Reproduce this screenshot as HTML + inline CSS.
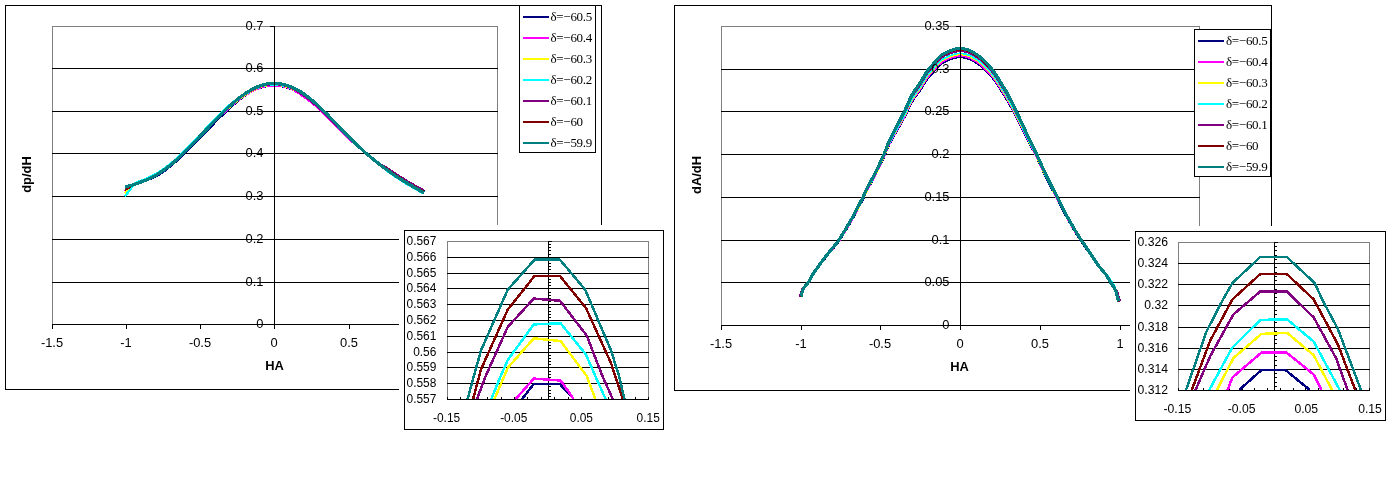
<!DOCTYPE html>
<html><head><meta charset="utf-8"><title>Charts</title>
<style>html,body{margin:0;padding:0;background:#fff;}svg{display:block;}text{fill:#000;}</style>
</head><body>
<svg width="1395" height="482" viewBox="0 0 1395 482">
<rect width="1395" height="482" fill="#fff"/>
<rect x="5" y="5" width="597" height="1" fill="#000"/>
<rect x="5" y="389" width="597" height="1" fill="#000"/>
<rect x="5" y="5" width="1" height="385" fill="#000"/>
<rect x="601" y="5" width="1" height="385" fill="#000"/>
<rect x="52" y="26" width="446" height="1" fill="#808080"/>
<rect x="52" y="26" width="1" height="299" fill="#808080"/>
<rect x="497" y="26" width="1" height="299" fill="#808080"/>
<rect x="52" y="68" width="446" height="1" fill="#000"/>
<rect x="52" y="111" width="446" height="1" fill="#000"/>
<rect x="52" y="153" width="446" height="1" fill="#000"/>
<rect x="52" y="196" width="446" height="1" fill="#000"/>
<rect x="52" y="239" width="446" height="1" fill="#000"/>
<rect x="52" y="282" width="446" height="1" fill="#000"/>
<g>
<polyline points="125.0,190.2 128.3,188.1 131.6,186.0 135.0,184.1 138.3,183.0 141.6,181.8 144.9,180.7 148.3,179.5 151.6,178.2 154.9,176.7 158.2,175.0 161.5,172.9 164.9,170.5 168.2,168.0 171.5,165.4 174.8,162.5 178.2,159.5 181.5,156.4 184.8,153.2 188.1,150.0 191.4,146.6 194.8,143.2 198.1,139.8 201.4,136.3 204.7,132.8 208.1,129.4 211.4,126.0 214.7,122.6 218.0,119.3 221.3,116.0 224.7,112.9 228.0,109.8 231.3,106.7 234.6,103.8 238.0,100.9 241.3,98.2 244.6,95.8 247.9,93.6 251.2,91.6 254.6,90.0 257.9,88.6 261.2,87.4 264.5,86.5 267.9,85.9 271.2,85.5 274.5,85.4 277.8,85.6 281.1,86.1 284.5,86.7 287.8,87.7 291.1,88.9 294.4,90.4 297.8,92.3 301.1,94.4 304.4,96.6 307.7,98.9 311.0,101.5 314.4,104.2 317.7,107.1 321.0,110.1 324.3,113.2 327.7,116.5 331.0,119.8 334.3,123.2 337.6,126.6 340.9,130.0 344.3,133.4 347.6,136.7 350.9,139.9 354.2,143.0 357.6,146.0 360.9,148.9 364.2,151.8 367.5,154.7 370.8,157.5 374.2,160.2 377.5,162.6 380.8,164.9 384.1,167.1 387.5,169.2 390.8,171.4 394.1,173.7 397.4,175.9 400.7,178.1 404.1,180.1 407.4,182.2 410.7,184.1 414.0,186.0 417.4,187.9 420.7,189.7 424.0,191.5" fill="none" stroke="#000080" stroke-width="2.4" stroke-linejoin="round" stroke-linecap="butt" shape-rendering="crispEdges"/>
<polyline points="125.0,191.2 128.3,188.7 131.6,186.2 135.0,184.1 138.3,183.0 141.6,181.8 144.9,180.5 148.3,179.1 151.6,177.5 154.9,175.8 158.2,173.9 161.5,171.8 164.9,169.4 168.2,166.9 171.5,164.3 174.8,161.4 178.2,158.4 181.5,155.3 184.8,152.1 188.1,148.8 191.4,145.5 194.8,142.1 198.1,138.6 201.4,135.2 204.7,131.7 208.1,128.2 211.4,124.8 214.7,121.4 218.0,118.1 221.3,114.9 224.7,111.7 228.0,108.7 231.3,105.7 234.6,103.0 238.0,100.3 241.3,97.8 244.6,95.5 247.9,93.5 251.2,91.6 254.6,89.9 257.9,88.5 261.2,87.3 264.5,86.4 267.9,85.8 271.2,85.4 274.5,85.3 277.8,85.5 281.1,86.0 284.5,86.6 287.8,87.6 291.1,88.8 294.4,90.5 297.8,92.5 301.1,94.8 304.4,97.1 307.7,99.4 311.0,102.0 314.4,104.7 317.7,107.6 321.0,110.6 324.3,113.8 327.7,117.0 331.0,120.4 334.3,123.7 337.6,127.1 340.9,130.6 344.3,134.0 347.6,137.3 350.9,140.4 354.2,143.3 357.6,146.2 360.9,149.0 364.2,151.8 367.5,154.7 370.8,157.5 374.2,160.2 377.5,162.7 380.8,165.1 384.1,167.5 387.5,169.8 390.8,172.0 394.1,174.3 397.4,176.5 400.7,178.7 404.1,180.7 407.4,182.8 410.7,184.7 414.0,186.6 417.4,188.5 420.7,190.3 424.0,192.1" fill="none" stroke="#ff00ff" stroke-width="2.4" stroke-linejoin="round" stroke-linecap="butt" shape-rendering="crispEdges"/>
<polyline points="125.0,193.2 128.3,190.0 131.6,186.8 135.0,184.1 138.3,183.0 141.6,181.8 144.9,180.5 148.3,179.1 151.6,177.5 154.9,175.8 158.2,173.9 161.5,171.7 164.9,169.4 168.2,166.9 171.5,164.2 174.8,161.4 178.2,158.4 181.5,155.3 184.8,152.1 188.1,148.8 191.4,145.4 194.8,142.0 198.1,138.5 201.4,135.0 204.7,131.5 208.1,128.0 211.4,124.6 214.7,121.2 218.0,117.8 221.3,114.6 224.7,111.4 228.0,108.3 231.3,105.3 234.6,102.5 238.0,99.8 241.3,97.3 244.6,95.0 247.9,92.9 251.2,91.0 254.6,89.3 257.9,87.8 261.2,86.6 264.5,85.7 267.9,85.1 271.2,84.7 274.5,84.6 277.8,84.8 281.1,85.3 284.5,86.0 287.8,86.9 291.1,88.1 294.4,89.6 297.8,91.3 301.1,93.2 304.4,95.4 307.7,97.7 311.0,100.3 314.4,103.1 317.7,106.0 321.0,109.1 324.3,112.2 327.7,115.5 331.0,118.9 334.3,122.3 337.6,125.7 340.9,129.2 344.3,132.6 347.6,136.0 350.9,139.3 354.2,142.5 357.6,145.7 360.9,148.8 364.2,151.7 367.5,154.6 370.8,157.4 374.2,160.2 377.5,162.8 380.8,165.4 384.1,167.8 387.5,170.3 390.8,172.6 394.1,174.9 397.4,177.1 400.7,179.2 404.1,181.3 407.4,183.4 410.7,185.3 414.0,187.2 417.4,189.1 420.7,190.9 424.0,192.7" fill="none" stroke="#ffff00" stroke-width="2.4" stroke-linejoin="round" stroke-linecap="butt" shape-rendering="crispEdges"/>
<polyline points="125.0,196.4 128.3,192.0 131.6,187.5 135.0,183.3 138.3,181.8 141.6,180.6 144.9,179.3 148.3,177.9 151.6,176.3 154.9,174.6 158.2,172.6 161.5,170.5 164.9,168.2 168.2,165.7 171.5,163.0 174.8,160.1 178.2,157.1 181.5,154.0 184.8,150.7 188.1,147.4 191.4,144.0 194.8,140.6 198.1,137.1 201.4,133.5 204.7,130.0 208.1,126.5 211.4,123.0 214.7,119.5 218.0,116.1 221.3,112.8 224.7,109.5 228.0,106.5 231.3,103.7 234.6,101.1 238.0,98.7 241.3,96.6 244.6,94.5 247.9,92.6 251.2,90.7 254.6,89.0 257.9,87.5 261.2,86.3 264.5,85.4 267.9,84.8 271.2,84.4 274.5,84.3 277.8,84.5 281.1,85.0 284.5,85.7 287.8,86.6 291.1,87.9 294.4,89.3 297.8,91.0 301.1,93.0 304.4,95.1 307.7,97.5 311.0,100.1 314.4,102.9 317.7,105.8 321.0,108.9 324.3,112.1 327.7,115.4 331.0,118.8 334.3,122.2 337.6,125.6 340.9,129.1 344.3,132.5 347.6,135.9 350.9,139.2 354.2,142.5 357.6,145.7 360.9,148.7 364.2,151.7 367.5,154.6 370.8,157.4 374.2,160.2 377.5,162.9 380.8,165.7 384.1,168.4 387.5,171.0 390.8,173.5 394.1,175.8 397.4,178.0 400.7,180.1 404.1,182.2 407.4,184.3 410.7,186.2 414.0,188.1 417.4,190.0 420.7,191.8 424.0,193.6" fill="none" stroke="#00ffff" stroke-width="2.4" stroke-linejoin="round" stroke-linecap="butt" shape-rendering="crispEdges"/>
<polyline points="125.0,189.2 128.3,187.4 131.6,185.7 135.0,184.1 138.3,183.0 141.6,181.8 144.9,180.5 148.3,179.1 151.6,177.5 154.9,175.8 158.2,173.8 161.5,171.7 164.9,169.4 168.2,166.9 171.5,164.2 174.8,161.3 178.2,158.3 181.5,155.2 184.8,152.0 188.1,148.7 191.4,145.3 194.8,141.9 198.1,138.4 201.4,134.9 204.7,131.4 208.1,127.9 211.4,124.4 214.7,121.0 218.0,117.6 221.3,114.3 224.7,111.1 228.0,108.0 231.3,105.0 234.6,102.1 238.0,99.4 241.3,96.9 244.6,94.5 247.9,92.4 251.2,90.4 254.6,88.7 257.9,87.3 261.2,86.1 264.5,85.1 267.9,84.5 271.2,84.1 274.5,84.0 277.8,84.2 281.1,84.7 284.5,85.4 287.8,86.4 291.1,87.6 294.4,89.3 297.8,91.3 301.1,93.5 304.4,95.9 307.7,98.3 311.0,100.9 314.4,103.7 317.7,106.6 321.0,109.7 324.3,112.9 327.7,116.3 331.0,119.6 334.3,123.1 337.6,126.5 340.9,130.0 344.3,133.4 347.6,136.8 350.9,140.0 354.2,143.0 357.6,145.9 360.9,148.8 364.2,151.7 367.5,154.6 370.8,157.4 374.2,160.0 377.5,162.4 380.8,164.5 384.1,166.4 387.5,168.4 390.8,170.5 394.1,172.8 397.4,175.0 400.7,177.1 404.1,179.2 407.4,181.3 410.7,183.2 414.0,185.1 417.4,187.0 420.7,188.8 424.0,190.6" fill="none" stroke="#800080" stroke-width="2.4" stroke-linejoin="round" stroke-linecap="butt" shape-rendering="crispEdges"/>
<polyline points="125.0,190.0 128.3,187.9 131.6,185.9 135.0,184.1 138.3,183.0 141.6,181.8 144.9,180.5 148.3,179.0 151.6,177.4 154.9,175.6 158.2,173.6 161.5,171.5 164.9,169.2 168.2,166.7 171.5,164.0 174.8,161.1 178.2,158.1 181.5,155.0 184.8,151.8 188.1,148.4 191.4,145.1 194.8,141.6 198.1,138.1 201.4,134.6 204.7,131.1 208.1,127.6 211.4,124.1 214.7,120.6 218.0,117.2 221.3,113.9 224.7,110.7 228.0,107.6 231.3,104.6 234.6,101.7 238.0,99.1 241.3,96.5 244.6,94.2 247.9,92.1 251.2,90.1 254.6,88.4 257.9,86.9 261.2,85.7 264.5,84.7 267.9,84.1 271.2,83.7 274.5,83.6 277.8,83.8 281.1,84.3 284.5,85.0 287.8,86.0 291.1,87.2 294.4,88.7 297.8,90.4 301.1,92.4 304.4,94.6 307.7,97.0 311.0,99.6 314.4,102.4 317.7,105.4 321.0,108.5 324.3,111.8 327.7,115.1 331.0,118.5 334.3,121.9 337.6,125.4 340.9,128.9 344.3,132.3 347.6,135.8 350.9,139.1 354.2,142.4 357.6,145.6 360.9,148.6 364.2,151.6 367.5,154.5 370.8,157.4 374.2,160.1 377.5,162.6 380.8,165.0 384.1,167.3 387.5,169.5 390.8,171.8 394.1,174.1 397.4,176.3 400.7,178.4 404.1,180.5 407.4,182.5 410.7,184.5 414.0,186.4 417.4,188.3 420.7,190.1 424.0,191.9" fill="none" stroke="#800000" stroke-width="2.4" stroke-linejoin="round" stroke-linecap="butt" shape-rendering="crispEdges"/>
<polyline points="125.0,187.2 128.3,186.2 131.6,185.2 135.0,184.1 138.3,183.0 141.6,181.8 144.9,180.5 148.3,179.1 151.6,177.5 154.9,175.8 158.2,173.8 161.5,171.7 164.9,169.4 168.2,166.9 171.5,164.2 174.8,161.3 178.2,158.3 181.5,155.2 184.8,151.9 188.1,148.6 191.4,145.2 194.8,141.8 198.1,138.3 201.4,134.7 204.7,131.2 208.1,127.7 211.4,124.2 214.7,120.7 218.0,117.3 221.3,114.0 224.7,110.7 228.0,107.6 231.3,104.6 234.6,101.7 238.0,98.9 241.3,96.4 244.6,94.0 247.9,91.8 251.2,89.8 254.6,88.1 257.9,86.6 261.2,85.4 264.5,84.4 267.9,83.8 271.2,83.4 274.5,83.3 277.8,83.5 281.1,84.0 284.5,84.7 287.8,85.7 291.1,86.9 294.4,88.4 297.8,90.2 301.1,92.1 304.4,94.3 307.7,96.8 311.0,99.4 314.4,102.2 317.7,105.2 321.0,108.4 324.3,111.6 327.7,114.9 331.0,118.4 334.3,121.8 337.6,125.3 340.9,128.8 344.3,132.3 347.6,135.7 350.9,139.1 354.2,142.3 357.6,145.5 360.9,148.6 364.2,151.6 367.5,154.5 370.8,157.3 374.2,160.1 377.5,162.7 380.8,165.3 384.1,167.8 387.5,170.2 390.8,172.6 394.1,174.9 397.4,177.1 400.7,179.2 404.1,181.3 407.4,183.3 410.7,185.3 414.0,187.2 417.4,189.1 420.7,190.9 424.0,192.7" fill="none" stroke="#008080" stroke-width="3.2" stroke-linejoin="round" stroke-linecap="butt" shape-rendering="crispEdges"/>
</g>
<rect x="52" y="324" width="446" height="1" fill="#000"/>
<rect x="274" y="26" width="1" height="303" fill="#000"/>
<rect x="270" y="26" width="5" height="1" fill="#000"/>
<rect x="270" y="68" width="5" height="1" fill="#000"/>
<rect x="270" y="111" width="5" height="1" fill="#000"/>
<rect x="270" y="153" width="5" height="1" fill="#000"/>
<rect x="270" y="196" width="5" height="1" fill="#000"/>
<rect x="270" y="239" width="5" height="1" fill="#000"/>
<rect x="270" y="282" width="5" height="1" fill="#000"/>
<rect x="270" y="324" width="5" height="1" fill="#000"/>
<rect x="52" y="324" width="1" height="5" fill="#000"/>
<rect x="126" y="324" width="1" height="5" fill="#000"/>
<rect x="200" y="324" width="1" height="5" fill="#000"/>
<rect x="274" y="324" width="1" height="5" fill="#000"/>
<rect x="349" y="324" width="1" height="5" fill="#000"/>
<rect x="423" y="324" width="1" height="5" fill="#000"/>
<rect x="497" y="324" width="1" height="5" fill="#000"/>
<text x="263.5" y="30.4" font-size="12.9" text-anchor="end" font-weight="normal" font-family='"Liberation Sans", Arial, sans-serif' >0.7</text>
<text x="263.5" y="72.4" font-size="12.9" text-anchor="end" font-weight="normal" font-family='"Liberation Sans", Arial, sans-serif' >0.6</text>
<text x="263.5" y="115.4" font-size="12.9" text-anchor="end" font-weight="normal" font-family='"Liberation Sans", Arial, sans-serif' >0.5</text>
<text x="263.5" y="157.4" font-size="12.9" text-anchor="end" font-weight="normal" font-family='"Liberation Sans", Arial, sans-serif' >0.4</text>
<text x="263.5" y="200.4" font-size="12.9" text-anchor="end" font-weight="normal" font-family='"Liberation Sans", Arial, sans-serif' >0.3</text>
<text x="263.5" y="243.4" font-size="12.9" text-anchor="end" font-weight="normal" font-family='"Liberation Sans", Arial, sans-serif' >0.2</text>
<text x="263.5" y="286.4" font-size="12.9" text-anchor="end" font-weight="normal" font-family='"Liberation Sans", Arial, sans-serif' >0.1</text>
<text x="263.5" y="328.4" font-size="12.9" text-anchor="end" font-weight="normal" font-family='"Liberation Sans", Arial, sans-serif' >0</text>
<text x="52" y="347.2" font-size="12.9" text-anchor="middle" font-weight="normal" font-family='"Liberation Sans", Arial, sans-serif' >-1.5</text>
<text x="126" y="347.2" font-size="12.9" text-anchor="middle" font-weight="normal" font-family='"Liberation Sans", Arial, sans-serif' >-1</text>
<text x="200" y="347.2" font-size="12.9" text-anchor="middle" font-weight="normal" font-family='"Liberation Sans", Arial, sans-serif' >-0.5</text>
<text x="274" y="347.2" font-size="12.9" text-anchor="middle" font-weight="normal" font-family='"Liberation Sans", Arial, sans-serif' >0</text>
<text x="349" y="347.2" font-size="12.9" text-anchor="middle" font-weight="normal" font-family='"Liberation Sans", Arial, sans-serif' >0.5</text>
<text x="423" y="347.2" font-size="12.9" text-anchor="middle" font-weight="normal" font-family='"Liberation Sans", Arial, sans-serif' >1</text>
<text x="497" y="347.2" font-size="12.9" text-anchor="middle" font-weight="normal" font-family='"Liberation Sans", Arial, sans-serif' >1.5</text>
<text x="274.5" y="370.0" font-size="12.9" text-anchor="middle" font-weight="bold" font-family='"Liberation Sans", Arial, sans-serif' >HA</text>
<text x="30.6" y="174.5" font-size="12.9" text-anchor="middle" font-weight="bold" font-family='"Liberation Sans", Arial, sans-serif' transform="rotate(-90 30.6 174.5)">dp/dH</text>
<rect x="519" y="5" width="77" height="148" fill="#fff"/>
<rect x="519" y="5" width="77" height="1" fill="#000"/>
<rect x="519" y="152" width="77" height="1" fill="#000"/>
<rect x="519" y="5" width="1" height="148" fill="#000"/>
<rect x="595" y="5" width="1" height="148" fill="#000"/>
<rect x="523" y="16" width="26" height="2" fill="#000080"/>
<text x="550.5" y="20.6" font-size="13" text-anchor="start" font-weight="normal" font-family='"Liberation Serif", "Times New Roman", serif' letter-spacing="-0.3">δ=−60.5</text>
<rect x="523" y="37" width="26" height="2" fill="#ff00ff"/>
<text x="550.5" y="41.6" font-size="13" text-anchor="start" font-weight="normal" font-family='"Liberation Serif", "Times New Roman", serif' letter-spacing="-0.3">δ=−60.4</text>
<rect x="523" y="58" width="26" height="2" fill="#ffff00"/>
<text x="550.5" y="62.6" font-size="13" text-anchor="start" font-weight="normal" font-family='"Liberation Serif", "Times New Roman", serif' letter-spacing="-0.3">δ=−60.3</text>
<rect x="523" y="79" width="26" height="2" fill="#00ffff"/>
<text x="550.5" y="83.6" font-size="13" text-anchor="start" font-weight="normal" font-family='"Liberation Serif", "Times New Roman", serif' letter-spacing="-0.3">δ=−60.2</text>
<rect x="523" y="100" width="26" height="2" fill="#800080"/>
<text x="550.5" y="104.6" font-size="13" text-anchor="start" font-weight="normal" font-family='"Liberation Serif", "Times New Roman", serif' letter-spacing="-0.3">δ=−60.1</text>
<rect x="523" y="121" width="26" height="2" fill="#800000"/>
<text x="550.5" y="125.6" font-size="13" text-anchor="start" font-weight="normal" font-family='"Liberation Serif", "Times New Roman", serif' letter-spacing="-0.3">δ=−60</text>
<rect x="523" y="142" width="26" height="2" fill="#008080"/>
<text x="550.5" y="146.6" font-size="13" text-anchor="start" font-weight="normal" font-family='"Liberation Serif", "Times New Roman", serif' letter-spacing="-0.3">δ=−59.9</text>
<rect x="674" y="5" width="598" height="1" fill="#000"/>
<rect x="674" y="390" width="598" height="1" fill="#000"/>
<rect x="674" y="5" width="1" height="386" fill="#000"/>
<rect x="1271" y="5" width="1" height="386" fill="#000"/>
<rect x="721" y="26" width="479" height="1" fill="#808080"/>
<rect x="721" y="26" width="1" height="300" fill="#808080"/>
<rect x="1199" y="26" width="1" height="300" fill="#808080"/>
<rect x="721" y="69" width="479" height="1" fill="#000"/>
<rect x="721" y="111" width="479" height="1" fill="#000"/>
<rect x="721" y="154" width="479" height="1" fill="#000"/>
<rect x="721" y="197" width="479" height="1" fill="#000"/>
<rect x="721" y="240" width="479" height="1" fill="#000"/>
<rect x="721" y="282" width="479" height="1" fill="#000"/>
<g>
<polyline points="801.0,297.1 803.0,289.9 803.6,288.7 806.3,285.6 808.2,283.3 808.9,282.2 811.6,277.4 812.9,275.2 814.2,273.2 816.9,269.5 819.5,266.0 820.1,265.2 822.2,262.4 824.8,259.0 827.5,255.6 828.6,254.2 830.1,252.4 832.8,249.3 835.4,246.1 838.1,242.8 838.6,242.0 840.7,239.0 843.3,234.7 845.4,231.4 846.0,230.4 848.6,226.0 851.3,221.5 853.9,216.8 854.3,216.2 856.6,212.0 859.2,207.0 861.9,201.8 863.3,199.0 864.5,196.5 867.2,191.0 868.5,188.3 869.8,185.8 872.5,181.1 875.1,176.2 875.5,175.5 877.8,170.9 880.4,165.4 883.0,159.6 883.8,157.9 885.7,153.4 888.3,147.0 889.5,144.5 891.0,141.6 893.6,136.8 896.3,132.1 896.6,131.6 898.9,127.5 901.6,122.9 904.2,118.2 905.0,116.7 906.9,113.0 909.5,107.2 912.2,102.0 912.2,102.0 914.8,97.9 917.5,94.3 920.1,90.7 920.3,90.4 922.7,86.5 925.4,82.1 928.0,78.2 928.6,77.5 930.7,75.2 932.8,73.0 933.3,72.4 935.9,69.4 936.0,69.3 938.6,66.4 941.1,64.1 941.3,64.0 943.9,62.4 946.3,61.2 946.6,61.1 949.2,60.0 951.9,59.0 953.6,58.5 954.5,58.3 957.2,57.6 959.8,57.3 962.4,57.5 965.1,58.0 967.1,58.5 967.7,58.7 970.4,59.8 973.0,61.2 974.3,61.9 975.7,62.7 978.3,64.5 980.5,66.1 981.0,66.4 983.6,68.8 984.7,69.8 986.3,71.4 988.9,74.0 991.6,77.0 992.3,77.9 994.2,80.4 996.9,84.2 999.5,88.4 1000.6,90.1 1002.1,92.5 1004.8,96.7 1007.4,101.0 1009.8,105.2 1010.1,105.7 1012.7,110.7 1015.4,115.9 1016.5,118.1 1018.0,121.1 1020.7,126.3 1023.2,131.2 1023.3,131.5 1026.0,136.7 1028.6,142.0 1030.6,145.9 1031.3,147.2 1033.9,152.2 1036.5,157.3 1036.6,157.4 1039.2,163.1 1041.8,169.0 1044.2,174.1 1044.5,174.7 1047.1,180.1 1049.8,185.3 1052.4,190.4 1052.4,190.4 1055.1,195.3 1057.0,198.9 1057.7,200.3 1060.4,205.5 1063.0,210.8 1065.3,215.2 1065.7,215.9 1068.3,220.6 1071.0,225.2 1072.3,227.5 1073.6,229.7 1076.3,234.1 1077.2,235.6 1078.9,238.2 1081.5,242.2 1081.6,242.2 1084.2,246.0 1086.8,249.8 1089.5,253.5 1091.5,256.5 1092.1,257.4 1094.8,261.5 1097.4,265.4 1098.4,266.8 1100.1,268.8 1102.7,271.7 1105.3,274.8 1105.4,274.9 1108.0,278.9 1110.7,283.2 1110.8,283.4 1113.3,287.1 1116.0,292.0 1116.0,292.2 1118.6,301.8" fill="none" stroke="#000080" stroke-width="1.8" stroke-linejoin="round" stroke-linecap="butt" shape-rendering="crispEdges"/>
<polyline points="801.0,297.0 803.0,289.8 803.6,288.6 806.3,285.4 808.2,283.2 808.9,282.0 811.6,277.3 812.9,275.0 814.2,273.0 816.9,269.3 819.5,265.8 820.1,265.0 822.2,262.2 824.8,258.8 827.5,255.4 828.6,254.0 830.1,252.1 832.8,249.0 835.4,245.9 838.1,242.5 838.6,241.8 840.7,238.7 843.3,234.5 845.4,231.1 846.0,230.1 848.6,225.7 851.3,221.2 853.9,216.5 854.3,215.8 856.6,211.6 859.2,206.6 861.9,201.4 863.3,198.6 864.5,196.1 867.2,190.6 868.5,187.9 869.8,185.4 872.5,180.6 875.1,175.8 875.5,175.0 877.8,170.5 880.4,164.9 883.0,159.1 883.8,157.4 885.7,152.9 888.3,146.4 889.5,143.9 891.0,140.9 893.6,136.1 896.3,131.4 896.6,130.8 898.9,126.6 901.6,122.0 904.2,117.2 905.0,115.7 906.9,111.9 909.5,106.1 912.2,100.9 912.2,100.8 914.8,96.8 917.5,93.1 920.1,89.4 920.3,89.1 922.7,85.2 925.4,80.9 928.0,76.9 928.6,76.2 930.7,73.9 932.8,71.7 933.3,71.1 935.9,68.0 936.0,68.0 938.6,65.0 941.1,62.8 941.3,62.7 943.9,61.0 946.3,59.9 946.6,59.7 949.2,58.6 951.9,57.7 953.6,57.1 954.5,56.9 957.2,56.2 959.8,55.9 962.4,56.1 965.1,56.6 967.1,57.1 967.7,57.3 970.4,58.4 973.0,59.8 974.3,60.6 975.7,61.4 978.3,63.1 980.5,64.7 981.0,65.1 983.6,67.5 984.7,68.5 986.3,70.1 988.9,72.7 991.6,75.7 992.3,76.6 994.2,79.1 996.9,83.0 999.5,87.1 1000.6,88.9 1002.1,91.3 1004.8,95.5 1007.4,99.9 1009.8,104.0 1010.1,104.5 1012.7,109.6 1015.4,114.9 1016.5,117.1 1018.0,120.1 1020.7,125.4 1023.2,130.4 1023.3,130.7 1026.0,136.0 1028.6,141.3 1030.6,145.3 1031.3,146.6 1033.9,151.7 1036.5,156.8 1036.6,156.9 1039.2,162.6 1041.8,168.5 1044.2,173.6 1044.5,174.2 1047.1,179.6 1049.8,184.9 1052.4,190.0 1052.4,190.0 1055.1,194.9 1057.0,198.5 1057.7,199.9 1060.4,205.2 1063.0,210.5 1065.3,214.8 1065.7,215.5 1068.3,220.3 1071.0,224.9 1072.3,227.2 1073.6,229.4 1076.3,233.8 1077.2,235.3 1078.9,237.9 1081.5,241.9 1081.6,242.0 1084.2,245.8 1086.8,249.5 1089.5,253.3 1091.5,256.2 1092.1,257.2 1094.8,261.3 1097.4,265.2 1098.4,266.6 1100.1,268.6 1102.7,271.5 1105.3,274.6 1105.4,274.7 1108.0,278.7 1110.7,283.1 1110.8,283.3 1113.3,287.0 1116.0,291.9 1116.0,292.1 1118.6,301.7" fill="none" stroke="#ff00ff" stroke-width="1.8" stroke-linejoin="round" stroke-linecap="butt" shape-rendering="crispEdges"/>
<polyline points="801.0,296.9 803.0,289.7 803.6,288.5 806.3,285.3 808.2,283.1 808.9,281.9 811.6,277.1 812.9,274.9 814.2,272.8 816.9,269.1 819.5,265.6 820.1,264.8 822.2,262.0 824.8,258.6 827.5,255.2 828.6,253.7 830.1,251.9 832.8,248.8 835.4,245.6 838.1,242.3 838.6,241.5 840.7,238.4 843.3,234.1 845.4,230.8 846.0,229.8 848.6,225.4 851.3,220.8 853.9,216.1 854.3,215.5 856.6,211.3 859.2,206.2 861.9,201.0 863.3,198.2 864.5,195.7 867.2,190.1 868.5,187.4 869.8,184.9 872.5,180.2 875.1,175.3 875.5,174.5 877.8,170.0 880.4,164.4 883.0,158.5 883.8,156.8 885.7,152.3 888.3,145.8 889.5,143.2 891.0,140.2 893.6,135.3 896.3,130.5 896.6,129.9 898.9,125.7 901.6,121.0 904.2,116.1 905.0,114.6 906.9,110.7 909.5,104.9 912.2,99.6 912.2,99.5 914.8,95.5 917.5,91.8 920.1,88.1 920.3,87.8 922.7,83.9 925.4,79.5 928.0,75.5 928.6,74.8 930.7,72.5 932.8,70.3 933.3,69.7 935.9,66.6 936.0,66.5 938.6,63.6 941.1,61.3 941.3,61.2 943.9,59.5 946.3,58.4 946.6,58.2 949.2,57.1 951.9,56.1 953.6,55.6 954.5,55.4 957.2,54.7 959.8,54.4 962.4,54.6 965.1,55.1 967.1,55.6 967.7,55.8 970.4,56.9 973.0,58.3 974.3,59.1 975.7,59.9 978.3,61.6 980.5,63.3 981.0,63.6 983.6,66.0 984.7,67.1 986.3,68.6 988.9,71.3 991.6,74.3 992.3,75.2 994.2,77.7 996.9,81.6 999.5,85.8 1000.6,87.5 1002.1,89.9 1004.8,94.2 1007.4,98.6 1009.8,102.8 1010.1,103.3 1012.7,108.4 1015.4,113.7 1016.5,116.0 1018.0,119.0 1020.7,124.4 1023.2,129.6 1023.3,129.8 1026.0,135.2 1028.6,140.7 1030.6,144.7 1031.3,146.0 1033.9,151.1 1036.5,156.2 1036.6,156.4 1039.2,162.1 1041.8,168.0 1044.2,173.1 1044.5,173.7 1047.1,179.2 1049.8,184.4 1052.4,189.5 1052.4,189.6 1055.1,194.5 1057.0,198.1 1057.7,199.5 1060.4,204.8 1063.0,210.1 1065.3,214.5 1065.7,215.2 1068.3,220.0 1071.0,224.6 1072.3,226.9 1073.6,229.1 1076.3,233.5 1077.2,235.0 1078.9,237.6 1081.5,241.6 1081.6,241.7 1084.2,245.5 1086.8,249.3 1089.5,253.1 1091.5,256.0 1092.1,257.0 1094.8,261.1 1097.4,265.0 1098.4,266.4 1100.1,268.4 1102.7,271.4 1105.3,274.5 1105.4,274.6 1108.0,278.6 1110.7,282.9 1110.8,283.2 1113.3,286.9 1116.0,291.8 1116.0,291.9 1118.6,301.6" fill="none" stroke="#ffff00" stroke-width="1.8" stroke-linejoin="round" stroke-linecap="butt" shape-rendering="crispEdges"/>
<polyline points="801.0,296.8 803.0,289.6 803.6,288.4 806.3,285.2 808.2,283.0 808.9,281.8 811.6,277.0 812.9,274.7 814.2,272.7 816.9,269.0 819.5,265.4 820.1,264.7 822.2,261.9 824.8,258.4 827.5,255.0 828.6,253.6 830.1,251.7 832.8,248.6 835.4,245.4 838.1,242.1 838.6,241.3 840.7,238.2 843.3,233.9 845.4,230.5 846.0,229.5 848.6,225.1 851.3,220.6 853.9,215.9 854.3,215.2 856.6,211.0 859.2,205.9 861.9,200.7 863.3,197.9 864.5,195.4 867.2,189.8 868.5,187.1 869.8,184.6 872.5,179.8 875.1,174.9 875.5,174.1 877.8,169.6 880.4,164.0 883.0,158.1 883.8,156.4 885.7,151.9 888.3,145.4 889.5,142.8 891.0,139.7 893.6,134.7 896.3,129.9 896.6,129.3 898.9,125.0 901.6,120.2 904.2,115.3 905.0,113.8 906.9,109.9 909.5,104.0 912.2,98.7 912.2,98.6 914.8,94.5 917.5,90.9 920.1,87.1 920.3,86.8 922.7,82.9 925.4,78.5 928.0,74.5 928.6,73.8 930.7,71.5 932.8,69.3 933.3,68.6 935.9,65.5 936.0,65.4 938.6,62.5 941.1,60.2 941.3,60.1 943.9,58.5 946.3,57.3 946.6,57.2 949.2,56.0 951.9,55.0 953.6,54.5 954.5,54.3 957.2,53.6 959.8,53.3 962.4,53.5 965.1,54.0 967.1,54.5 967.7,54.7 970.4,55.8 973.0,57.2 974.3,58.0 975.7,58.8 978.3,60.6 980.5,62.2 981.0,62.6 983.6,65.0 984.7,66.0 986.3,67.6 988.9,70.3 991.6,73.3 992.3,74.2 994.2,76.7 996.9,80.6 999.5,84.8 1000.6,86.5 1002.1,89.0 1004.8,93.2 1007.4,97.7 1009.8,101.9 1010.1,102.4 1012.7,107.5 1015.4,112.9 1016.5,115.2 1018.0,118.3 1020.7,123.7 1023.2,128.9 1023.3,129.2 1026.0,134.7 1028.6,140.1 1030.6,144.2 1031.3,145.5 1033.9,150.7 1036.5,155.8 1036.6,155.9 1039.2,161.7 1041.8,167.6 1044.2,172.8 1044.5,173.4 1047.1,178.8 1049.8,184.1 1052.4,189.2 1052.4,189.2 1055.1,194.2 1057.0,197.8 1057.7,199.2 1060.4,204.5 1063.0,209.8 1065.3,214.2 1065.7,214.9 1068.3,219.7 1071.0,224.4 1072.3,226.7 1073.6,228.9 1076.3,233.3 1077.2,234.8 1078.9,237.4 1081.5,241.4 1081.6,241.5 1084.2,245.3 1086.8,249.1 1089.5,252.9 1091.5,255.9 1092.1,256.8 1094.8,260.9 1097.4,264.9 1098.4,266.2 1100.2,268.3 1103.7,271.2 1107.0,274.3 1107.0,274.4 1109.7,278.5 1112.4,282.8 1112.5,283.1 1115.0,286.8 1116.4,291.7 1116.4,291.9 1118.6,301.6" fill="none" stroke="#00ffff" stroke-width="1.8" stroke-linejoin="round" stroke-linecap="butt" shape-rendering="crispEdges"/>
<polyline points="799.8,296.7 801.9,289.4 802.7,288.2 806.1,285.0 808.2,282.8 808.9,281.6 811.6,276.8 812.9,274.5 814.2,272.5 816.9,268.7 819.5,265.1 820.1,264.4 822.2,261.6 824.8,258.1 827.5,254.7 828.6,253.2 830.1,251.4 832.8,248.2 835.4,245.1 838.1,241.7 838.6,240.9 840.7,237.8 843.3,233.5 845.4,230.1 846.0,229.1 848.6,224.6 851.3,220.1 853.9,215.3 854.3,214.7 856.6,210.4 859.2,205.3 861.9,200.1 863.3,197.3 864.5,194.7 867.2,189.1 868.5,186.4 869.8,183.9 872.5,179.1 875.1,174.2 875.5,173.4 877.8,168.8 880.4,163.2 883.0,157.3 883.8,155.6 885.7,151.0 888.3,144.4 889.5,141.8 891.0,138.7 893.6,133.6 896.3,128.7 896.6,128.1 898.9,123.7 901.6,118.7 904.2,113.7 905.0,112.1 906.9,108.1 909.5,102.2 912.2,96.9 912.2,96.8 914.8,92.7 917.5,89.0 920.1,85.2 920.3,84.9 922.7,80.9 925.4,76.5 928.0,72.5 928.6,71.7 930.7,69.4 932.8,67.2 933.3,66.5 935.9,63.4 936.0,63.3 938.6,60.4 941.1,58.1 941.3,57.9 943.9,56.3 946.3,55.1 946.6,55.0 949.2,53.8 951.9,52.8 953.6,52.3 954.5,52.1 957.2,51.4 959.8,51.0 962.4,51.3 965.1,51.8 967.1,52.3 967.7,52.5 970.4,53.6 973.0,55.1 974.3,55.8 975.7,56.6 978.3,58.4 980.5,60.0 981.0,60.4 983.6,62.9 984.7,63.9 986.3,65.5 988.9,68.2 991.6,71.2 992.3,72.1 994.2,74.7 996.9,78.6 999.5,82.9 1000.6,84.6 1002.1,87.1 1004.8,91.3 1007.4,95.8 1009.8,100.0 1010.1,100.6 1012.7,105.8 1015.4,111.3 1016.5,113.6 1018.0,116.7 1020.7,122.3 1023.2,127.7 1023.3,127.9 1026.0,133.5 1028.6,139.1 1030.6,143.3 1031.3,144.6 1033.9,149.8 1036.5,155.0 1036.6,155.1 1039.2,160.9 1041.8,166.9 1044.2,172.0 1044.5,172.6 1047.1,178.1 1049.8,183.4 1052.4,188.5 1052.4,188.6 1055.1,193.6 1057.0,197.2 1057.7,198.6 1060.4,203.9 1063.0,209.2 1065.3,213.7 1065.7,214.4 1068.3,219.2 1071.0,223.9 1072.3,226.2 1073.6,228.4 1076.3,232.8 1077.2,234.3 1078.9,237.0 1081.5,241.0 1081.6,241.1 1084.2,244.9 1086.8,248.7 1089.5,252.6 1091.5,255.5 1092.1,256.5 1094.8,260.6 1097.4,264.6 1098.4,266.0 1100.1,268.0 1102.7,271.0 1105.3,274.1 1105.4,274.2 1108.0,278.2 1110.7,282.6 1110.8,282.9 1114.0,286.6 1117.5,291.6 1117.5,291.7 1120.1,301.4" fill="none" stroke="#800080" stroke-width="1.8" stroke-linejoin="round" stroke-linecap="butt" shape-rendering="crispEdges"/>
<polyline points="800.4,296.6 802.4,289.3 803.2,288.1 806.2,284.9 808.2,282.6 808.9,281.4 811.6,276.6 812.9,274.3 814.2,272.3 816.9,268.5 819.5,264.9 820.1,264.2 822.2,261.4 824.8,257.9 827.5,254.4 828.6,253.0 830.1,251.1 832.8,248.0 835.4,244.8 838.1,241.4 838.6,240.6 840.7,237.5 843.3,233.2 845.4,229.8 846.0,228.8 848.6,224.3 851.3,219.7 853.9,215.0 854.3,214.3 856.6,210.1 859.2,205.0 861.9,199.7 863.3,196.9 864.5,194.3 867.2,188.7 868.5,186.0 869.8,183.5 872.5,178.6 875.1,173.7 875.5,172.9 877.8,168.3 880.4,162.7 883.0,156.8 883.8,155.1 885.7,150.5 888.3,143.8 889.5,141.2 891.0,138.0 893.6,132.9 896.3,127.8 896.6,127.2 898.9,122.8 901.6,117.8 904.2,112.6 905.0,111.0 906.9,107.0 909.5,101.0 912.2,95.6 912.2,95.6 914.8,91.4 917.5,87.7 920.1,83.9 920.3,83.6 922.7,79.6 925.4,75.1 928.0,71.1 928.6,70.4 930.7,68.0 932.8,65.8 933.3,65.2 935.9,62.0 936.0,61.9 938.6,58.9 941.1,56.6 941.3,56.5 943.9,54.8 946.3,53.7 946.6,53.5 949.2,52.4 951.9,51.4 953.6,50.9 954.5,50.6 957.2,49.9 959.8,49.6 962.4,49.8 965.1,50.4 967.1,50.9 967.7,51.1 970.4,52.2 973.0,53.6 974.3,54.4 975.7,55.2 978.3,57.0 980.5,58.6 981.0,59.0 983.6,61.4 984.7,62.5 986.3,64.1 988.9,66.8 991.6,69.9 992.3,70.8 994.2,73.3 996.9,77.3 999.5,81.6 1000.6,83.3 1002.1,85.8 1004.8,90.1 1007.4,94.6 1009.8,98.8 1010.1,99.4 1012.7,104.6 1015.4,110.2 1016.5,112.5 1018.0,115.7 1020.7,121.4 1023.2,126.8 1023.3,127.1 1026.0,132.8 1028.6,138.5 1030.6,142.6 1031.3,144.0 1033.9,149.2 1036.5,154.5 1036.6,154.6 1039.2,160.4 1041.8,166.4 1044.2,171.5 1044.5,172.1 1047.1,177.6 1049.8,182.9 1052.4,188.1 1052.4,188.1 1055.1,193.1 1057.0,196.8 1057.7,198.2 1060.4,203.5 1063.0,208.9 1065.3,213.3 1065.7,214.0 1068.3,218.9 1071.0,223.5 1072.3,225.9 1073.6,228.1 1076.3,232.5 1077.2,234.1 1078.9,236.7 1081.5,240.8 1081.6,240.8 1084.2,244.7 1086.8,248.5 1089.5,252.3 1091.5,255.3 1092.1,256.2 1094.8,260.4 1097.4,264.4 1098.4,265.8 1100.1,267.8 1102.7,270.8 1105.3,273.9 1105.4,274.0 1108.0,278.1 1110.7,282.5 1110.8,282.7 1113.7,286.5 1116.8,291.5 1116.8,291.6 1119.4,301.4" fill="none" stroke="#800000" stroke-width="1.8" stroke-linejoin="round" stroke-linecap="butt" shape-rendering="crispEdges"/>
<polyline points="801.0,296.5 803.0,289.2 803.6,288.0 806.3,284.8 808.2,282.5 808.9,281.3 811.6,276.5 812.9,274.2 814.2,272.2 816.9,268.4 819.5,264.8 820.1,264.0 822.2,261.2 824.8,257.7 827.5,254.3 828.6,252.8 830.1,250.9 832.8,247.8 835.4,244.6 838.1,241.2 838.6,240.4 840.7,237.3 843.3,232.9 845.4,229.5 846.0,228.5 848.6,224.0 851.3,219.4 853.9,214.7 854.3,214.0 856.6,209.7 859.2,204.6 861.9,199.4 863.3,196.5 864.5,194.0 867.2,188.3 868.5,185.6 869.8,183.1 872.5,178.2 875.1,173.3 875.5,172.5 877.8,167.9 880.4,162.2 883.0,156.3 883.8,154.6 885.7,150.0 888.3,143.3 889.5,140.6 891.0,137.4 893.6,132.2 896.3,127.1 896.6,126.5 898.9,122.0 901.6,116.9 904.2,111.7 905.0,110.1 906.9,106.0 909.5,100.0 912.2,94.6 912.2,94.5 914.8,90.3 917.5,86.6 920.1,82.8 920.3,82.5 922.7,78.5 925.4,74.0 928.0,69.9 928.6,69.2 930.7,66.9 932.8,64.6 933.3,64.0 935.9,60.8 936.0,60.7 938.6,57.7 941.1,55.4 941.3,55.3 943.9,53.6 946.3,52.4 946.6,52.3 949.2,51.1 951.9,50.1 953.6,49.6 954.5,49.3 957.2,48.6 959.8,48.3 962.4,48.5 965.1,49.1 967.1,49.6 967.7,49.8 970.4,50.9 973.0,52.4 974.3,53.1 975.7,53.9 978.3,55.7 980.5,57.4 981.0,57.8 983.6,60.2 984.7,61.3 986.3,62.9 988.9,65.6 991.6,68.7 992.3,69.6 994.2,72.2 996.9,76.2 999.5,80.4 1000.6,82.2 1002.1,84.7 1004.8,89.0 1007.4,93.5 1009.8,97.8 1010.1,98.3 1012.7,103.6 1015.4,109.2 1016.5,111.6 1018.0,114.9 1020.7,120.6 1023.2,126.1 1023.3,126.4 1026.0,132.1 1028.6,137.9 1030.6,142.1 1031.3,143.5 1033.9,148.7 1036.5,154.0 1036.6,154.1 1039.2,159.9 1041.8,165.9 1044.2,171.1 1044.5,171.7 1047.1,177.2 1049.8,182.6 1052.4,187.7 1052.4,187.8 1055.1,192.8 1057.0,196.4 1057.7,197.8 1060.4,203.2 1063.0,208.5 1065.3,213.0 1065.7,213.7 1068.3,218.6 1071.0,223.3 1072.3,225.6 1073.6,227.8 1076.3,232.3 1077.2,233.8 1078.9,236.5 1081.5,240.5 1081.6,240.6 1084.2,244.4 1086.8,248.3 1089.5,252.1 1091.5,255.1 1092.1,256.1 1094.8,260.2 1097.4,264.3 1098.4,265.6 1100.1,267.7 1102.7,270.6 1105.3,273.8 1105.4,273.9 1108.0,277.9 1110.7,282.4 1110.8,282.6 1113.3,286.4 1116.0,291.4 1116.0,291.5 1118.6,301.3" fill="none" stroke="#008080" stroke-width="3.2" stroke-linejoin="round" stroke-linecap="butt" shape-rendering="crispEdges"/>
</g>
<rect x="721" y="325" width="479" height="1" fill="#000"/>
<rect x="960" y="26" width="1" height="304" fill="#000"/>
<rect x="956" y="26" width="5" height="1" fill="#000"/>
<rect x="956" y="69" width="5" height="1" fill="#000"/>
<rect x="956" y="111" width="5" height="1" fill="#000"/>
<rect x="956" y="154" width="5" height="1" fill="#000"/>
<rect x="956" y="197" width="5" height="1" fill="#000"/>
<rect x="956" y="240" width="5" height="1" fill="#000"/>
<rect x="956" y="282" width="5" height="1" fill="#000"/>
<rect x="956" y="325" width="5" height="1" fill="#000"/>
<rect x="721" y="325" width="1" height="5" fill="#000"/>
<rect x="801" y="325" width="1" height="5" fill="#000"/>
<rect x="880" y="325" width="1" height="5" fill="#000"/>
<rect x="960" y="325" width="1" height="5" fill="#000"/>
<rect x="1040" y="325" width="1" height="5" fill="#000"/>
<rect x="1120" y="325" width="1" height="5" fill="#000"/>
<rect x="1199" y="325" width="1" height="5" fill="#000"/>
<text x="949.5" y="30.2" font-size="12.9" text-anchor="end" font-weight="normal" font-family='"Liberation Sans", Arial, sans-serif' >0.35</text>
<text x="949.5" y="73.2" font-size="12.9" text-anchor="end" font-weight="normal" font-family='"Liberation Sans", Arial, sans-serif' >0.3</text>
<text x="949.5" y="115.2" font-size="12.9" text-anchor="end" font-weight="normal" font-family='"Liberation Sans", Arial, sans-serif' >0.25</text>
<text x="949.5" y="158.2" font-size="12.9" text-anchor="end" font-weight="normal" font-family='"Liberation Sans", Arial, sans-serif' >0.2</text>
<text x="949.5" y="201.2" font-size="12.9" text-anchor="end" font-weight="normal" font-family='"Liberation Sans", Arial, sans-serif' >0.15</text>
<text x="949.5" y="244.2" font-size="12.9" text-anchor="end" font-weight="normal" font-family='"Liberation Sans", Arial, sans-serif' >0.1</text>
<text x="949.5" y="286.2" font-size="12.9" text-anchor="end" font-weight="normal" font-family='"Liberation Sans", Arial, sans-serif' >0.05</text>
<text x="949.5" y="329.2" font-size="12.9" text-anchor="end" font-weight="normal" font-family='"Liberation Sans", Arial, sans-serif' >0</text>
<text x="721" y="347.9" font-size="12.9" text-anchor="middle" font-weight="normal" font-family='"Liberation Sans", Arial, sans-serif' >-1.5</text>
<text x="801" y="347.9" font-size="12.9" text-anchor="middle" font-weight="normal" font-family='"Liberation Sans", Arial, sans-serif' >-1</text>
<text x="880" y="347.9" font-size="12.9" text-anchor="middle" font-weight="normal" font-family='"Liberation Sans", Arial, sans-serif' >-0.5</text>
<text x="960" y="347.9" font-size="12.9" text-anchor="middle" font-weight="normal" font-family='"Liberation Sans", Arial, sans-serif' >0</text>
<text x="1040" y="347.9" font-size="12.9" text-anchor="middle" font-weight="normal" font-family='"Liberation Sans", Arial, sans-serif' >0.5</text>
<text x="1120" y="347.9" font-size="12.9" text-anchor="middle" font-weight="normal" font-family='"Liberation Sans", Arial, sans-serif' >1</text>
<text x="1199" y="347.9" font-size="12.9" text-anchor="middle" font-weight="normal" font-family='"Liberation Sans", Arial, sans-serif' >1.5</text>
<text x="959.5" y="370.8" font-size="12.9" text-anchor="middle" font-weight="bold" font-family='"Liberation Sans", Arial, sans-serif' >HA</text>
<text x="701" y="175" font-size="12.9" text-anchor="middle" font-weight="bold" font-family='"Liberation Sans", Arial, sans-serif' transform="rotate(-90 701 175)">dA/dH</text>
<rect x="1194" y="29" width="77" height="148" fill="#fff"/>
<rect x="1194" y="29" width="77" height="1" fill="#000"/>
<rect x="1194" y="176" width="77" height="1" fill="#000"/>
<rect x="1194" y="29" width="1" height="148" fill="#000"/>
<rect x="1270" y="29" width="1" height="148" fill="#000"/>
<rect x="1198" y="40" width="26" height="2" fill="#000080"/>
<text x="1226" y="44.6" font-size="13" text-anchor="start" font-weight="normal" font-family='"Liberation Serif", "Times New Roman", serif' letter-spacing="-0.3">δ=−60.5</text>
<rect x="1198" y="61" width="26" height="2" fill="#ff00ff"/>
<text x="1226" y="65.6" font-size="13" text-anchor="start" font-weight="normal" font-family='"Liberation Serif", "Times New Roman", serif' letter-spacing="-0.3">δ=−60.4</text>
<rect x="1198" y="82" width="26" height="2" fill="#ffff00"/>
<text x="1226" y="86.6" font-size="13" text-anchor="start" font-weight="normal" font-family='"Liberation Serif", "Times New Roman", serif' letter-spacing="-0.3">δ=−60.3</text>
<rect x="1198" y="103" width="26" height="2" fill="#00ffff"/>
<text x="1226" y="107.6" font-size="13" text-anchor="start" font-weight="normal" font-family='"Liberation Serif", "Times New Roman", serif' letter-spacing="-0.3">δ=−60.2</text>
<rect x="1198" y="124" width="26" height="2" fill="#800080"/>
<text x="1226" y="128.6" font-size="13" text-anchor="start" font-weight="normal" font-family='"Liberation Serif", "Times New Roman", serif' letter-spacing="-0.3">δ=−60.1</text>
<rect x="1198" y="145" width="26" height="2" fill="#800000"/>
<text x="1226" y="149.6" font-size="13" text-anchor="start" font-weight="normal" font-family='"Liberation Serif", "Times New Roman", serif' letter-spacing="-0.3">δ=−60</text>
<rect x="1198" y="166" width="26" height="2" fill="#008080"/>
<text x="1226" y="170.6" font-size="13" text-anchor="start" font-weight="normal" font-family='"Liberation Serif", "Times New Roman", serif' letter-spacing="-0.3">δ=−59.9</text>
<rect x="399" y="225" width="270" height="210" fill="#fff"/>
<rect x="404" y="230" width="260" height="1" fill="#000"/>
<rect x="404" y="429" width="260" height="1" fill="#000"/>
<rect x="404" y="230" width="1" height="200" fill="#000"/>
<rect x="663" y="230" width="1" height="200" fill="#000"/>
<rect x="447" y="241" width="202" height="1" fill="#808080"/>
<rect x="447" y="241" width="1" height="159" fill="#808080"/>
<rect x="648" y="241" width="1" height="159" fill="#808080"/>
<rect x="447" y="257" width="202" height="1" fill="#000"/>
<rect x="447" y="273" width="202" height="1" fill="#000"/>
<rect x="447" y="288" width="202" height="1" fill="#000"/>
<rect x="447" y="304" width="202" height="1" fill="#000"/>
<rect x="447" y="320" width="202" height="1" fill="#000"/>
<rect x="447" y="336" width="202" height="1" fill="#000"/>
<rect x="447" y="352" width="202" height="1" fill="#000"/>
<rect x="447" y="367" width="202" height="1" fill="#000"/>
<rect x="447" y="383" width="202" height="1" fill="#000"/>
<rect x="447" y="399" width="202" height="1" fill="#000"/>
<rect x="548" y="241" width="1" height="159" fill="#000"/>
<rect x="548" y="241" width="4" height="1" fill="#000"/>
<rect x="548" y="244" width="3" height="1" fill="#000"/>
<rect x="548" y="247" width="3" height="1" fill="#000"/>
<rect x="548" y="250" width="3" height="1" fill="#000"/>
<rect x="548" y="254" width="3" height="1" fill="#000"/>
<rect x="548" y="257" width="4" height="1" fill="#000"/>
<rect x="548" y="260" width="3" height="1" fill="#000"/>
<rect x="548" y="263" width="3" height="1" fill="#000"/>
<rect x="548" y="266" width="3" height="1" fill="#000"/>
<rect x="548" y="269" width="3" height="1" fill="#000"/>
<rect x="548" y="273" width="4" height="1" fill="#000"/>
<rect x="548" y="276" width="3" height="1" fill="#000"/>
<rect x="548" y="279" width="3" height="1" fill="#000"/>
<rect x="548" y="282" width="3" height="1" fill="#000"/>
<rect x="548" y="285" width="3" height="1" fill="#000"/>
<rect x="548" y="288" width="4" height="1" fill="#000"/>
<rect x="548" y="292" width="3" height="1" fill="#000"/>
<rect x="548" y="295" width="3" height="1" fill="#000"/>
<rect x="548" y="298" width="3" height="1" fill="#000"/>
<rect x="548" y="301" width="3" height="1" fill="#000"/>
<rect x="548" y="304" width="4" height="1" fill="#000"/>
<rect x="548" y="307" width="3" height="1" fill="#000"/>
<rect x="548" y="311" width="3" height="1" fill="#000"/>
<rect x="548" y="314" width="3" height="1" fill="#000"/>
<rect x="548" y="317" width="3" height="1" fill="#000"/>
<rect x="548" y="320" width="4" height="1" fill="#000"/>
<rect x="548" y="323" width="3" height="1" fill="#000"/>
<rect x="548" y="326" width="3" height="1" fill="#000"/>
<rect x="548" y="329" width="3" height="1" fill="#000"/>
<rect x="548" y="333" width="3" height="1" fill="#000"/>
<rect x="548" y="336" width="4" height="1" fill="#000"/>
<rect x="548" y="339" width="3" height="1" fill="#000"/>
<rect x="548" y="342" width="3" height="1" fill="#000"/>
<rect x="548" y="345" width="3" height="1" fill="#000"/>
<rect x="548" y="348" width="3" height="1" fill="#000"/>
<rect x="548" y="352" width="4" height="1" fill="#000"/>
<rect x="548" y="355" width="3" height="1" fill="#000"/>
<rect x="548" y="358" width="3" height="1" fill="#000"/>
<rect x="548" y="361" width="3" height="1" fill="#000"/>
<rect x="548" y="364" width="3" height="1" fill="#000"/>
<rect x="548" y="367" width="4" height="1" fill="#000"/>
<rect x="548" y="371" width="3" height="1" fill="#000"/>
<rect x="548" y="374" width="3" height="1" fill="#000"/>
<rect x="548" y="377" width="3" height="1" fill="#000"/>
<rect x="548" y="380" width="3" height="1" fill="#000"/>
<rect x="548" y="383" width="4" height="1" fill="#000"/>
<rect x="548" y="386" width="3" height="1" fill="#000"/>
<rect x="548" y="390" width="3" height="1" fill="#000"/>
<rect x="548" y="393" width="3" height="1" fill="#000"/>
<rect x="548" y="396" width="3" height="1" fill="#000"/>
<rect x="548" y="399" width="4" height="1" fill="#000"/>
<rect x="447" y="397" width="1" height="3" fill="#000"/>
<rect x="460" y="397" width="1" height="3" fill="#000"/>
<rect x="474" y="397" width="1" height="3" fill="#000"/>
<rect x="487" y="397" width="1" height="3" fill="#000"/>
<rect x="501" y="397" width="1" height="3" fill="#000"/>
<rect x="514" y="397" width="1" height="3" fill="#000"/>
<rect x="527" y="397" width="1" height="3" fill="#000"/>
<rect x="541" y="397" width="1" height="3" fill="#000"/>
<rect x="554" y="397" width="1" height="3" fill="#000"/>
<rect x="568" y="397" width="1" height="3" fill="#000"/>
<rect x="581" y="397" width="1" height="3" fill="#000"/>
<rect x="594" y="397" width="1" height="3" fill="#000"/>
<rect x="608" y="397" width="1" height="3" fill="#000"/>
<rect x="621" y="397" width="1" height="3" fill="#000"/>
<rect x="635" y="397" width="1" height="3" fill="#000"/>
<rect x="648" y="397" width="1" height="3" fill="#000"/>
<text x="436.3" y="245.3" font-size="11.9" text-anchor="end" font-weight="normal" font-family='"Liberation Sans", Arial, sans-serif' >0.567</text>
<text x="436.3" y="261.3" font-size="11.9" text-anchor="end" font-weight="normal" font-family='"Liberation Sans", Arial, sans-serif' >0.566</text>
<text x="436.3" y="277.3" font-size="11.9" text-anchor="end" font-weight="normal" font-family='"Liberation Sans", Arial, sans-serif' >0.565</text>
<text x="436.3" y="292.3" font-size="11.9" text-anchor="end" font-weight="normal" font-family='"Liberation Sans", Arial, sans-serif' >0.564</text>
<text x="436.3" y="308.3" font-size="11.9" text-anchor="end" font-weight="normal" font-family='"Liberation Sans", Arial, sans-serif' >0.563</text>
<text x="436.3" y="324.3" font-size="11.9" text-anchor="end" font-weight="normal" font-family='"Liberation Sans", Arial, sans-serif' >0.562</text>
<text x="436.3" y="340.3" font-size="11.9" text-anchor="end" font-weight="normal" font-family='"Liberation Sans", Arial, sans-serif' >0.561</text>
<text x="436.3" y="356.3" font-size="11.9" text-anchor="end" font-weight="normal" font-family='"Liberation Sans", Arial, sans-serif' >0.56</text>
<text x="436.3" y="371.3" font-size="11.9" text-anchor="end" font-weight="normal" font-family='"Liberation Sans", Arial, sans-serif' >0.559</text>
<text x="436.3" y="387.3" font-size="11.9" text-anchor="end" font-weight="normal" font-family='"Liberation Sans", Arial, sans-serif' >0.558</text>
<text x="436.3" y="403.3" font-size="11.9" text-anchor="end" font-weight="normal" font-family='"Liberation Sans", Arial, sans-serif' >0.557</text>
<text x="446.6" y="421.5" font-size="11.9" text-anchor="middle" font-weight="normal" font-family='"Liberation Sans", Arial, sans-serif' >-0.15</text>
<text x="513.7" y="421.5" font-size="11.9" text-anchor="middle" font-weight="normal" font-family='"Liberation Sans", Arial, sans-serif' >-0.05</text>
<text x="581.4" y="421.5" font-size="11.9" text-anchor="middle" font-weight="normal" font-family='"Liberation Sans", Arial, sans-serif' >0.05</text>
<text x="648.2" y="421.5" font-size="11.9" text-anchor="middle" font-weight="normal" font-family='"Liberation Sans", Arial, sans-serif' >0.15</text>
<clipPath id="ci1"><rect x="447" y="241" width="202" height="158.5"/></clipPath>
<g clip-path="url(#ci1)">
<polyline points="522.0,399.0 533.8,384.0 559.9,384.0 573.7,399.0" fill="none" stroke="#000080" stroke-width="2.5" stroke-linejoin="round" stroke-linecap="butt" shape-rendering="crispEdges"/>
<polyline points="515.7,399.0 533.8,378.6 560.6,380.5 573.7,399.0" fill="none" stroke="#ff00ff" stroke-width="2.5" stroke-linejoin="round" stroke-linecap="butt" shape-rendering="crispEdges"/>
<polyline points="494.4,399.0 507.8,367.8 533.8,338.3 560.6,341.0 586.7,376.0 595.3,399.0" fill="none" stroke="#ffff00" stroke-width="2.5" stroke-linejoin="round" stroke-linecap="butt" shape-rendering="crispEdges"/>
<polyline points="491.3,399.0 500.7,376.0 507.8,359.9 533.8,324.4 560.6,323.3 585.9,354.4 595.3,376.0 605.6,399.0" fill="none" stroke="#00ffff" stroke-width="2.5" stroke-linejoin="round" stroke-linecap="butt" shape-rendering="crispEdges"/>
<polyline points="477.0,399.0 485.7,376.0 507.8,326.8 533.8,298.6 559.9,300.7 586.7,335.5 602.4,376.0 612.7,399.0" fill="none" stroke="#800080" stroke-width="2.5" stroke-linejoin="round" stroke-linecap="butt" shape-rendering="crispEdges"/>
<polyline points="473.1,399.0 481.0,369.4 507.8,309.5 534.6,275.9 559.9,275.9 585.9,307.9 611.0,363.0 622.9,399.0" fill="none" stroke="#800000" stroke-width="2.5" stroke-linejoin="round" stroke-linecap="butt" shape-rendering="crispEdges"/>
<polyline points="467.6,399.0 473.9,376.0 481.0,350.5 507.8,289.6 534.6,259.7 559.9,259.7 585.1,289.6 611.1,350.5 619.0,376.0 624.5,399.0" fill="none" stroke="#008080" stroke-width="2.5" stroke-linejoin="round" stroke-linecap="butt" shape-rendering="crispEdges"/>
</g>
<rect x="1130" y="226" width="261" height="200" fill="#fff"/>
<rect x="1135" y="231" width="251" height="1" fill="#000"/>
<rect x="1135" y="420" width="251" height="1" fill="#000"/>
<rect x="1135" y="231" width="1" height="190" fill="#000"/>
<rect x="1385" y="231" width="1" height="190" fill="#000"/>
<rect x="1178" y="242" width="192" height="1" fill="#808080"/>
<rect x="1178" y="242" width="1" height="149" fill="#808080"/>
<rect x="1369" y="242" width="1" height="149" fill="#808080"/>
<rect x="1178" y="263" width="192" height="1" fill="#000"/>
<rect x="1178" y="284" width="192" height="1" fill="#000"/>
<rect x="1178" y="305" width="192" height="1" fill="#000"/>
<rect x="1178" y="327" width="192" height="1" fill="#000"/>
<rect x="1178" y="348" width="192" height="1" fill="#000"/>
<rect x="1178" y="369" width="192" height="1" fill="#000"/>
<rect x="1178" y="390" width="192" height="1" fill="#000"/>
<rect x="1274" y="242" width="1" height="149" fill="#000"/>
<rect x="1274" y="242" width="4" height="1" fill="#000"/>
<rect x="1274" y="246" width="3" height="1" fill="#000"/>
<rect x="1274" y="250" width="3" height="1" fill="#000"/>
<rect x="1274" y="255" width="3" height="1" fill="#000"/>
<rect x="1274" y="259" width="3" height="1" fill="#000"/>
<rect x="1274" y="263" width="4" height="1" fill="#000"/>
<rect x="1274" y="267" width="3" height="1" fill="#000"/>
<rect x="1274" y="272" width="3" height="1" fill="#000"/>
<rect x="1274" y="276" width="3" height="1" fill="#000"/>
<rect x="1274" y="280" width="3" height="1" fill="#000"/>
<rect x="1274" y="284" width="4" height="1" fill="#000"/>
<rect x="1274" y="289" width="3" height="1" fill="#000"/>
<rect x="1274" y="293" width="3" height="1" fill="#000"/>
<rect x="1274" y="297" width="3" height="1" fill="#000"/>
<rect x="1274" y="301" width="3" height="1" fill="#000"/>
<rect x="1274" y="305" width="4" height="1" fill="#000"/>
<rect x="1274" y="310" width="3" height="1" fill="#000"/>
<rect x="1274" y="314" width="3" height="1" fill="#000"/>
<rect x="1274" y="318" width="3" height="1" fill="#000"/>
<rect x="1274" y="322" width="3" height="1" fill="#000"/>
<rect x="1274" y="327" width="4" height="1" fill="#000"/>
<rect x="1274" y="331" width="3" height="1" fill="#000"/>
<rect x="1274" y="335" width="3" height="1" fill="#000"/>
<rect x="1274" y="339" width="3" height="1" fill="#000"/>
<rect x="1274" y="343" width="3" height="1" fill="#000"/>
<rect x="1274" y="348" width="4" height="1" fill="#000"/>
<rect x="1274" y="352" width="3" height="1" fill="#000"/>
<rect x="1274" y="356" width="3" height="1" fill="#000"/>
<rect x="1274" y="360" width="3" height="1" fill="#000"/>
<rect x="1274" y="365" width="3" height="1" fill="#000"/>
<rect x="1274" y="369" width="4" height="1" fill="#000"/>
<rect x="1274" y="373" width="3" height="1" fill="#000"/>
<rect x="1274" y="377" width="3" height="1" fill="#000"/>
<rect x="1274" y="382" width="3" height="1" fill="#000"/>
<rect x="1274" y="386" width="3" height="1" fill="#000"/>
<rect x="1274" y="390" width="4" height="1" fill="#000"/>
<rect x="1178" y="388" width="1" height="3" fill="#000"/>
<rect x="1191" y="388" width="1" height="3" fill="#000"/>
<rect x="1203" y="388" width="1" height="3" fill="#000"/>
<rect x="1216" y="388" width="1" height="3" fill="#000"/>
<rect x="1229" y="388" width="1" height="3" fill="#000"/>
<rect x="1242" y="388" width="1" height="3" fill="#000"/>
<rect x="1254" y="388" width="1" height="3" fill="#000"/>
<rect x="1267" y="388" width="1" height="3" fill="#000"/>
<rect x="1280" y="388" width="1" height="3" fill="#000"/>
<rect x="1293" y="388" width="1" height="3" fill="#000"/>
<rect x="1305" y="388" width="1" height="3" fill="#000"/>
<rect x="1318" y="388" width="1" height="3" fill="#000"/>
<rect x="1331" y="388" width="1" height="3" fill="#000"/>
<rect x="1343" y="388" width="1" height="3" fill="#000"/>
<rect x="1356" y="388" width="1" height="3" fill="#000"/>
<rect x="1369" y="388" width="1" height="3" fill="#000"/>
<text x="1168" y="246.3" font-size="12.2" text-anchor="end" font-weight="normal" font-family='"Liberation Sans", Arial, sans-serif' >0.326</text>
<text x="1168" y="267.3" font-size="12.2" text-anchor="end" font-weight="normal" font-family='"Liberation Sans", Arial, sans-serif' >0.324</text>
<text x="1168" y="288.3" font-size="12.2" text-anchor="end" font-weight="normal" font-family='"Liberation Sans", Arial, sans-serif' >0.322</text>
<text x="1168" y="309.3" font-size="12.2" text-anchor="end" font-weight="normal" font-family='"Liberation Sans", Arial, sans-serif' >0.32</text>
<text x="1168" y="331.3" font-size="12.2" text-anchor="end" font-weight="normal" font-family='"Liberation Sans", Arial, sans-serif' >0.318</text>
<text x="1168" y="352.3" font-size="12.2" text-anchor="end" font-weight="normal" font-family='"Liberation Sans", Arial, sans-serif' >0.316</text>
<text x="1168" y="373.3" font-size="12.2" text-anchor="end" font-weight="normal" font-family='"Liberation Sans", Arial, sans-serif' >0.314</text>
<text x="1168" y="394.3" font-size="12.2" text-anchor="end" font-weight="normal" font-family='"Liberation Sans", Arial, sans-serif' >0.312</text>
<text x="1177.4" y="412.5" font-size="12.2" text-anchor="middle" font-weight="normal" font-family='"Liberation Sans", Arial, sans-serif' >-0.15</text>
<text x="1241.6" y="412.5" font-size="12.2" text-anchor="middle" font-weight="normal" font-family='"Liberation Sans", Arial, sans-serif' >-0.05</text>
<text x="1306.3" y="412.5" font-size="12.2" text-anchor="middle" font-weight="normal" font-family='"Liberation Sans", Arial, sans-serif' >0.05</text>
<text x="1370" y="412.5" font-size="12.2" text-anchor="middle" font-weight="normal" font-family='"Liberation Sans", Arial, sans-serif' >0.15</text>
<clipPath id="ci2"><rect x="1178" y="242" width="192" height="148.5"/></clipPath>
<g clip-path="url(#ci2)">
<polyline points="1239.2,390.0 1261.4,370.1 1285.6,370.1 1309.8,390.0" fill="none" stroke="#000080" stroke-width="2.5" stroke-linejoin="round" stroke-linecap="butt" shape-rendering="crispEdges"/>
<polyline points="1227.6,390.0 1232.4,377.4 1261.4,352.6 1286.6,352.6 1313.7,374.5 1321.4,390.0" fill="none" stroke="#ff00ff" stroke-width="2.5" stroke-linejoin="round" stroke-linecap="butt" shape-rendering="crispEdges"/>
<polyline points="1216.9,390.0 1233.4,358.1 1261.4,333.9 1287.2,332.9 1313.7,355.2 1332.1,390.0" fill="none" stroke="#ffff00" stroke-width="2.5" stroke-linejoin="round" stroke-linecap="butt" shape-rendering="crispEdges"/>
<polyline points="1209.2,390.0 1232.4,347.4 1260.5,319.9 1287.2,319.4 1313.7,341.6 1339.8,390.0" fill="none" stroke="#00ffff" stroke-width="2.5" stroke-linejoin="round" stroke-linecap="butt" shape-rendering="crispEdges"/>
<polyline points="1195.6,390.0 1210.2,356.1 1233.4,314.5 1260.5,291.3 1286.6,291.3 1313.7,317.4 1336.0,358.0 1347.6,390.0" fill="none" stroke="#800080" stroke-width="2.5" stroke-linejoin="round" stroke-linecap="butt" shape-rendering="crispEdges"/>
<polyline points="1191.8,390.0 1210.2,340.6 1232.4,299.4 1260.5,273.9 1286.6,273.9 1313.7,299.4 1337.9,344.5 1355.3,390.0" fill="none" stroke="#800000" stroke-width="2.5" stroke-linejoin="round" stroke-linecap="butt" shape-rendering="crispEdges"/>
<polyline points="1186.0,390.0 1206.3,331.9 1222.7,300.0 1232.4,283.0 1260.5,256.8 1286.6,256.8 1314.7,283.0 1322.4,300.0 1337.9,329.0 1361.0,390.0" fill="none" stroke="#008080" stroke-width="2.5" stroke-linejoin="round" stroke-linecap="butt" shape-rendering="crispEdges"/>
</g>
</svg></body></html>
